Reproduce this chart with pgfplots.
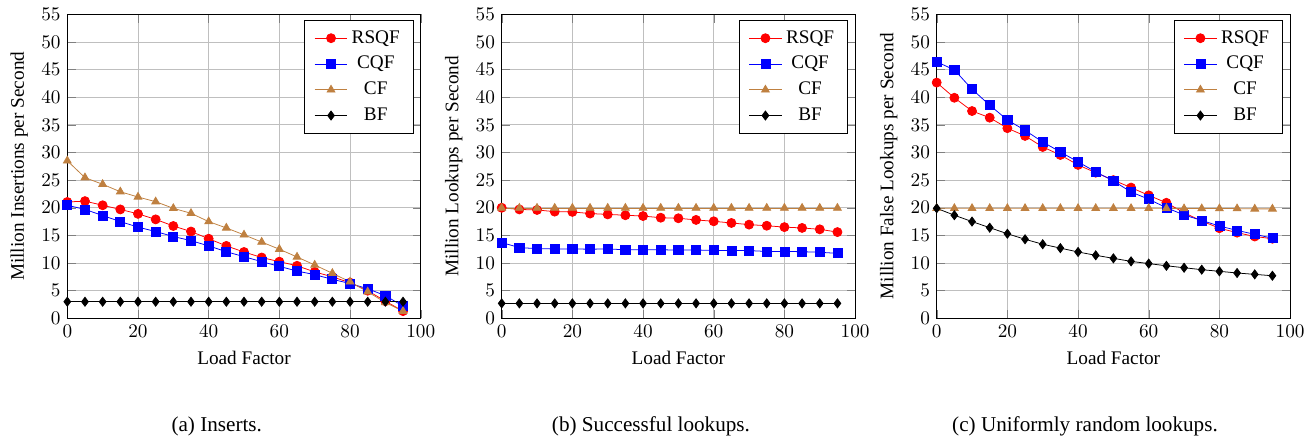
\documentclass[border=0pt]{standalone}
\usepackage{fontspec}
\setmainfont{Liberation Serif}
\usepackage{pgfplots}
\pgfplotsset{compat=1.18}
\pgfplotsset{
  filt/.style={
    scale only axis, width=183.77pt, height=158.08pt,
    xmin=0, xmax=100, ymin=0, ymax=55,
    xtick={0,20,...,100}, ytick={0,5,...,55},
    grid=major,
    xlabel={Load Factor},
    legend cell align=center,
    legend style={at={(0.98,0.98)}, anchor=north east, row sep=1.3pt, inner xsep=5pt, inner ysep=3pt},
    every axis plot/.append style={mark size=2.35pt},
  },
}
\begin{document}
\begin{tikzpicture}
\useasboundingbox (0,0) rectangle (683.8pt,228.28pt);
% (a)
\begin{axis}[filt, at={(35.0pt,62.76pt)}, anchor=south west, ylabel={Million Insertions per Second}]
\addplot[red, mark=*] coordinates {(0,21.05)(5,21.2)(10,20.45)(15,19.7)(20,18.9)(25,17.9)(30,16.7)(35,15.7)(40,14.4)(45,13.1)(50,12.0)(55,11.0)(60,10.25)(65,9.5)(70,8.4)(75,7.5)(80,6.45)(85,5.0)(90,3.1)(95,1.3)};
\addlegendentry{RSQF}
\addplot[blue, mark=square*] coordinates {(0,20.45)(5,19.7)(10,18.6)(15,17.5)(20,16.5)(25,15.7)(30,14.8)(35,14.05)(40,13.1)(45,12.05)(50,11.15)(55,10.25)(60,9.4)(65,8.55)(70,7.9)(75,7.05)(80,6.3)(85,5.35)(90,4.1)(95,2.2)};
\addlegendentry{CQF}
\addplot[brown, mark=triangle*] coordinates {(0,28.5)(5,25.45)(10,24.25)(15,22.9)(20,21.95)(25,21.1)(30,19.9)(35,19.0)(40,17.5)(45,16.35)(50,15.1)(55,13.8)(60,12.5)(65,11.1)(70,9.65)(75,8.15)(80,6.6)(85,4.8)(90,2.85)(95,1.3)};
\addlegendentry{CF}
\addplot[black, mark=diamond*] coordinates {(0,3.0)(5,3.0)(10,3.0)(15,3.0)(20,3.0)(25,3.0)(30,3.0)(35,3.0)(40,3.0)(45,3.0)(50,3.0)(55,3.0)(60,3.0)(65,3.0)(70,3.0)(75,3.0)(80,3.0)(85,3.0)(90,3.0)(95,3.0)};
\addlegendentry{BF}
\end{axis}
% (b)
\begin{axis}[filt, at={(260.88pt,62.76pt)}, anchor=south west, ylabel={Million Lookups per Second}]
\addplot[red, mark=*] coordinates {(0,20.0)(5,19.7)(10,19.6)(15,19.3)(20,19.25)(25,18.95)(30,18.8)(35,18.65)(40,18.5)(45,18.2)(50,18.1)(55,17.8)(60,17.55)(65,17.25)(70,16.95)(75,16.75)(80,16.5)(85,16.35)(90,16.1)(95,15.6)};
\addlegendentry{RSQF}
\addplot[blue, mark=square*] coordinates {(0,13.7)(5,12.8)(10,12.6)(15,12.55)(20,12.55)(25,12.5)(30,12.55)(35,12.4)(40,12.4)(45,12.4)(50,12.35)(55,12.35)(60,12.3)(65,12.25)(70,12.25)(75,12.1)(80,12.1)(85,12.05)(90,11.95)(95,11.75)};
\addlegendentry{CQF}
\addplot[brown, mark=triangle*] coordinates {(0,19.95)(5,19.95)(10,19.95)(15,19.95)(20,19.95)(25,19.95)(30,19.95)(35,19.95)(40,19.95)(45,19.95)(50,19.95)(55,19.95)(60,19.95)(65,19.95)(70,19.95)(75,19.95)(80,19.95)(85,19.95)(90,19.95)(95,19.95)};
\addlegendentry{CF}
\addplot[black, mark=diamond*] coordinates {(0,2.7)(5,2.7)(10,2.7)(15,2.7)(20,2.7)(25,2.7)(30,2.7)(35,2.7)(40,2.7)(45,2.7)(50,2.7)(55,2.7)(60,2.7)(65,2.7)(70,2.7)(75,2.7)(80,2.7)(85,2.7)(90,2.7)(95,2.7)};
\addlegendentry{BF}
\end{axis}
% (c)
\begin{axis}[filt, at={(487.08pt,62.76pt)}, anchor=south west, ylabel={Million False Lookups per Second}]
\addplot[red, mark=*] coordinates {(0,42.65)(5,39.9)(10,37.5)(15,36.3)(20,34.4)(25,33.0)(30,31.0)(35,29.55)(40,27.75)(45,26.35)(50,25.0)(55,23.65)(60,22.25)(65,20.9)(70,19.1)(75,17.6)(80,16.3)(85,15.5)(90,14.8)(95,14.4)};
\addlegendentry{RSQF}
\addplot[blue, mark=square*] coordinates {(0,46.4)(5,44.95)(10,41.45)(15,38.55)(20,35.9)(25,34.0)(30,31.9)(35,30.1)(40,28.3)(45,26.5)(50,24.85)(55,22.85)(60,21.55)(65,20.0)(70,18.7)(75,17.7)(80,16.7)(85,15.9)(90,15.2)(95,14.5)};
\addlegendentry{CQF}
\addplot[brown, mark=triangle*] coordinates {(0,19.9)(5,19.9)(10,19.9)(15,19.9)(20,19.9)(25,19.9)(30,19.9)(35,19.9)(40,19.9)(45,19.9)(50,19.9)(55,19.9)(60,19.9)(65,19.9)(70,19.85)(75,19.85)(80,19.85)(85,19.85)(90,19.8)(95,19.8)};
\addlegendentry{CF}
\addplot[black, mark=diamond*] coordinates {(0,19.9)(5,18.65)(10,17.5)(15,16.4)(20,15.3)(25,14.3)(30,13.4)(35,12.7)(40,12.0)(45,11.4)(50,10.85)(55,10.3)(60,9.9)(65,9.5)(70,9.15)(75,8.8)(80,8.5)(85,8.2)(90,7.95)(95,7.7)};
\addlegendentry{BF}
\end{axis}
\begin{scope}[every node/.style={font=\fontsize{11}{13}\selectfont}]
\node at (112.7pt,6.76pt) {(a) Inserts.};
\node at (338.5pt,6.76pt) {(b) Successful lookups.};
\node at (564.2pt,6.76pt) {(c) Uniformly random lookups.};
\end{scope}
\end{tikzpicture}
\end{document}
